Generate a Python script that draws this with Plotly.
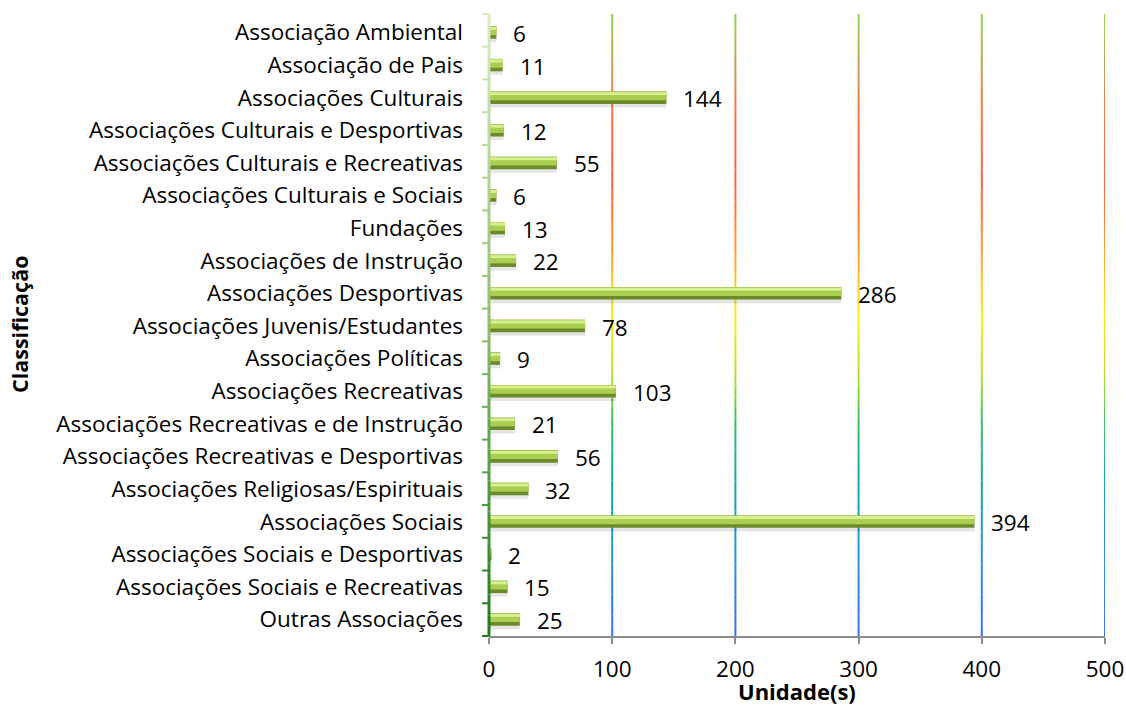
import plotly.graph_objects as go

categories = [
    "Associação Ambiental",
    "Associação de Pais",
    "Associações Culturais",
    "Associações Culturais e Desportivas",
    "Associações Culturais e Recreativas",
    "Associações Culturais e Sociais",
    "Fundações",
    "Associações de Instrução",
    "Associações Desportivas",
    "Associações Juvenis/Estudantes",
    "Associações Políticas",
    "Associações Recreativas",
    "Associações Recreativas e de Instrução",
    "Associações Recreativas e Desportivas",
    "Associações Religiosas/Espirituais",
    "Associações Sociais",
    "Associações Sociais e Desportivas",
    "Associações Sociais e Recreativas",
    "Outras Associações",
]
values = [6, 11, 144, 12, 55, 6, 13, 22, 286, 78, 9, 103, 21, 56, 32, 394, 2, 15, 25]
x_ticks = [0, 100, 200, 300, 400, 500]

FONT = "Open Sans"
FS = 22.5
n = len(categories)

W, H = 1126, 707
ML, MR, MT, MB = 489, 21, 14, 71
PW = W - ML - MR
PH = H - MT - MB

fig = go.Figure()
# shadow
fig.add_trace(go.Bar(y=categories, x=values, orientation="h",
                     marker=dict(color="rgba(0,0,0,0.10)", line=dict(width=0)),
                     width=0.40, offset=-0.10, hoverinfo="skip", showlegend=False))
# dark lower body
fig.add_trace(go.Bar(y=categories, x=values, orientation="h",
                     marker=dict(color="#6b8a2a", line=dict(width=0)),
                     width=0.38, offset=-0.19, hoverinfo="skip", showlegend=False))
# mid body
fig.add_trace(go.Bar(y=categories, x=values, orientation="h",
                     marker=dict(color="#aacd52", line=dict(width=0)),
                     width=0.27, offset=-0.19, hoverinfo="skip", showlegend=False))
# light highlight top
fig.add_trace(go.Bar(y=categories, x=values, orientation="h",
                     marker=dict(color="#d8f090", line=dict(width=0)),
                     width=0.09, offset=-0.17, showlegend=False))

fig.update_layout(barmode="overlay")

for c, v in zip(categories, values):
    fig.add_annotation(x=v, y=c, xref="x", yref="y", text=str(v), showarrow=False,
                       xanchor="left", yanchor="middle", xshift=15, yshift=-1,
                       font=dict(family=FONT, size=FS, color="#000000"))


def hex2rgb(h):
    h = h.lstrip("#")
    return tuple(int(h[i:i + 2], 16) for i in (0, 2, 4))


def interp(stops, t):
    for (t0, c0), (t1, c1) in zip(stops[:-1], stops[1:]):
        if t0 <= t <= t1:
            f = 0 if t1 == t0 else (t - t0) / (t1 - t0)
            a, b = hex2rgb(c0), hex2rgb(c1)
            return "rgb(%d,%d,%d)" % tuple(round(a[k] + (b[k] - a[k]) * f) for k in range(3))
    return stops[-1][1]


# gradient stops along paper y (0 bottom, 1 top); given in page pixels
top_px, bot_px = MT, H - MB
def py(px):
    return (bot_px - px) / (bot_px - top_px)

grid_stops = sorted([
    (py(636), "#3070ff"),
    (py(560), "#2a8ed8"),
    (py(480), "#12a8a0"),
    (py(420), "#3cbf60"),
    (py(380), "#a8e030"),
    (py(320), "#f8ee10"),
    (py(290), "#ffd020"),
    (py(250), "#ff9a30"),
    (py(180), "#ff603c"),
    (py(110), "#f07a40"),
    (py(65), "#c8a050"),
    (py(30), "#98cc50"),
    (py(14), "#90d050"),
])

axis_stops = [(0.0, "#1a7a1a"), (0.5, "#8cbc6c"), (1.0, "#d8ecc0")]

shapes = []
NSEG = 60
for xv in x_ticks[1:]:
    for k in range(NSEG):
        y0, y1 = k / NSEG, (k + 1) / NSEG
        shapes.append(dict(type="line", xref="x", yref="paper", x0=xv, x1=xv, y0=y0, y1=y1,
                           line=dict(color=interp(grid_stops, (y0 + y1) / 2), width=2),
                           layer="below"))
# y axis line with gradient
for k in range(NSEG):
    y0, y1 = k / NSEG, (k + 1) / NSEG
    shapes.append(dict(type="line", xref="paper", yref="paper", x0=0, x1=0, y0=y0, y1=y1,
                       line=dict(color=interp(axis_stops, (y0 + y1) / 2), width=3),
                       layer="above"))
# y ticks at category boundaries
for i in range(n + 1):
    t = 1 - i / n
    shapes.append(dict(type="line", xref="paper", yref="paper", x0=-7 / PW, x1=0,
                       y0=t, y1=t, line=dict(color=interp(axis_stops, t), width=2),
                       layer="above"))
fig.update_layout(shapes=shapes)

fig.add_annotation(text="<b>Classificação</b>", xref="paper", yref="paper",
                   x=(19 - ML) / PW, y=(bot_px - 325) / PH, textangle=-90,
                   showarrow=False, xanchor="center", yanchor="middle",
                   font=dict(family=FONT, size=21.5, color="#000000"))
fig.add_annotation(text="<b>Unidade(s)</b>", xref="paper", yref="paper",
                   x=(797 - ML) / PW, y=(bot_px - 691) / PH,
                   showarrow=False, xanchor="center", yanchor="middle",
                   font=dict(family=FONT, size=22, color="#000000"))

fig.update_layout(
    width=W, height=H,
    margin=dict(l=ML, r=MR, t=MT, b=MB, autoexpand=False),
    plot_bgcolor="white", paper_bgcolor="white",
    font=dict(family=FONT, size=FS, color="#000000"),
    xaxis=dict(range=[0, 500], tickvals=x_ticks, showgrid=False, zeroline=False,
               showline=True, linecolor="#8c8c8c", linewidth=2,
               ticks="outside", ticklen=6, tickwidth=2, tickcolor="#8c8c8c",
               ticklabelstandoff=6,
               tickfont=dict(family=FONT, size=FS, color="#000000"),
               fixedrange=True),
    yaxis=dict(categoryorder="array", categoryarray=categories, autorange="reversed",
               showgrid=False, zeroline=False, showline=False, ticks="",
               ticklabelstandoff=25,
               tickfont=dict(family=FONT, size=FS, color="#000000"), fixedrange=True),
    bargap=0.6,
    hovermode=False,
)

fig.write_html("out.html", config={"displayModeBar": False},
               post_script="document.body.style.margin='0';document.body.style.overflow='hidden';")
